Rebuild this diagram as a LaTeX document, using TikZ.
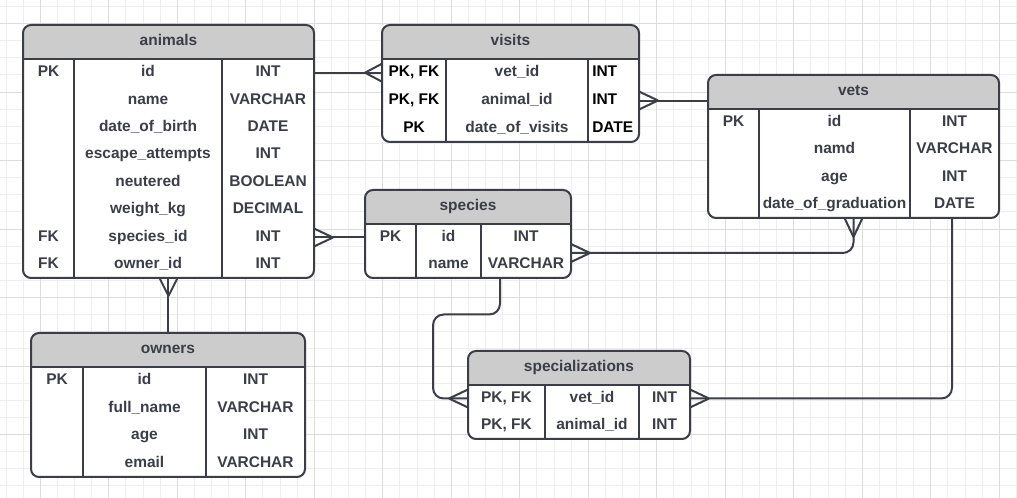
\documentclass[tikz,border=0pt]{standalone}
\usepackage{fontspec}
\setmainfont{Liberation Sans}
\usetikzlibrary{calc}

\definecolor{ink}{RGB}{59,62,70}
\definecolor{hdrgray}{RGB}{204,204,204}
\definecolor{gridlo}{RGB}{238,238,238}
\definecolor{gridhi}{RGB}{221,221,221}

% table frame: name, x, y, width, height, first rule, second rule
\newcommand\ertable[7]{%
  \node[tbl, minimum width={#4*0.75pt}, minimum height={#5*0.75pt}] (#1) at (#2,#3) {};
  \begin{scope}
    \clip[rounded corners=6pt] (#1.north west) rectangle (#1.south east);
    \fill[hdrgray] (#1.north west) rectangle ($(#1.north east)+(0,34)$);
  \end{scope}
  \draw[rule] ($(#1.north west)+(0,34)$) -- ($(#1.north east)+(0,34)$);
  \draw[rule] (#6,#3+34) -- (#6,#3+#5);
  \draw[rule] (#7,#3+34) -- (#7,#3+#5);
  \draw[frame] (#1.north west) rectangle (#1.south east);
  \node[cell] (#1-title) at ($(#1.north)+(0,17)$) {#1};
}

\begin{document}
\begin{tikzpicture}[x=0.75pt, y=-0.75pt,
    tbl/.style={fill=white, inner sep=0pt, outer sep=0pt, anchor=north west},
    frame/.style={draw=ink, line width=1.5pt, rounded corners=6pt},
    rule/.style={draw=ink, line width=1.5pt},
    link/.style={draw=ink, line width=1.5pt},
    cell/.style={font=\fontsize{11.6}{13}\selectfont\bfseries, text=ink, inner sep=0pt, text height=8pt, text depth=2pt}]
  \useasboundingbox (0,0) rectangle (1017,498);
  \fill[white] (0,0) rectangle (1017,498);

  % grid
  \foreach \i in {0,...,59} \draw[gridlo, line width=0.75pt] (6.05+17.125*\i,0) -- ++(0,498);
  \foreach \j in {0,...,28} \draw[gridlo, line width=0.75pt] (0,6.5+17.125*\j) -- ++(1017,0);
  \foreach \i in {0,...,14} \draw[gridhi, line width=0.75pt] (40.3+68.5*\i,0) -- ++(0,498);
  \foreach \j in {0,...,6} \draw[gridhi, line width=0.75pt] (0,23.6+68.5*\j) -- ++(1017,0);

  % animals
  \ertable{animals}{23}{25}{291}{253}{74}{222}
  \foreach \k/\n/\t [count=\i] in {PK/id/INT, {}/name/VARCHAR, {}/date\_of\_birth/DATE,
      {}/escape\_attempts/INT, {}/neutered/BOOLEAN, {}/weight\_kg/DECIMAL,
      FK/species\_id/INT, FK/owner\_id/INT} {
    \node[cell] (animals-k\i) at (48.5,59+27.4*\i-13.7) {\k};
    \node[cell] (animals-n\i) at (148,59+27.4*\i-13.7) {\n};
    \node[cell] (animals-t\i) at (268,59+27.4*\i-13.7) {\t};
  }

  % visits
  \ertable{visits}{382}{25}{257}{117}{446}{588}
  \foreach \k/\n/\t [count=\i] in {{PK, FK}/vet\_id/INT, {PK, FK}/animal\_id/INT, PK/date\_of\_visits/DATE} {
    \node[cell, text=black] (visits-k\i) at (414,59+27.67*\i-13.83) {\k};
    \node[cell] (visits-n\i) at (517,59+27.67*\i-13.83) {\n};
    \node[cell, text=black, anchor=west] (visits-t\i) at (592,59+27.67*\i-13.83) {\t};
  }

  % vets
  \ertable{vets}{708}{75}{291}{143}{759}{910}
  \foreach \k/\n/\t [count=\i] in {PK/id/INT, {}/namd/VARCHAR, {}/age/INT, {}/date\_of\_graduation/DATE} {
    \node[cell] (vets-k\i) at (733.5,109+27.25*\i-13.6) {\k};
    \node[cell] (vets-n\i) at (834.5,109+27.25*\i-13.6) {\n};
    \node[cell] (vets-t\i) at (954.5,109+27.25*\i-13.6) {\t};
  }

  % species
  \ertable{species}{365}{190}{206}{88}{416}{481}
  \foreach \k/\n/\t [count=\i] in {PK/id/INT, {}/name/VARCHAR} {
    \node[cell] (species-k\i) at (390.5,224+27*\i-13.5) {\k};
    \node[cell] (species-n\i) at (448.5,224+27*\i-13.5) {\n};
    \node[cell] (species-t\i) at (526,224+27*\i-13.5) {\t};
  }

  % owners
  \ertable{owners}{31}{333}{274}{144}{83}{206}
  \foreach \k/\n/\t [count=\i] in {PK/id/INT, {}/full\_name/VARCHAR, {}/age/INT, {}/email/VARCHAR} {
    \node[cell] (owners-k\i) at (57,367+27.5*\i-13.75) {\k};
    \node[cell] (owners-n\i) at (144.5,367+27.5*\i-13.75) {\n};
    \node[cell] (owners-t\i) at (255.5,367+27.5*\i-13.75) {\t};
  }

  % specializations
  \ertable{specializations}{468}{351}{222}{88}{545}{639}
  \foreach \k/\n/\t [count=\i] in {{PK, FK}/vet\_id/INT, {PK, FK}/animal\_id/INT} {
    \node[cell] (specializations-k\i) at (506.5,385+27*\i-13.5) {\k};
    \node[cell] (specializations-n\i) at (592,385+27*\i-13.5) {\n};
    \node[cell] (specializations-t\i) at (664.5,385+27*\i-13.5) {\t};
  }

  % relations
  \draw[link] (animals.east |- animals-n1) -- (visits.west |- animals-n1);
  \coordinate (f1) at ($(visits.west |- animals-n1)+(-17,0)$);
  \draw[link] (f1) -- +(17,-9) (f1) -- +(17,9);

  \draw[link] (visits.east |- visits-n2) -- (vets.west |- visits-n2);
  \coordinate (f2) at ($(visits.east |- visits-n2)+(19,0)$);
  \draw[link] (f2) -- +(-19,-9) (f2) -- +(-19,9);

  \draw[link] (animals.east |- species-n1) -- (species.west |- species-n1);
  \coordinate (f3) at ($(animals.east |- species-n1)+(19,0)$);
  \draw[link] (f3) -- +(-19,-9) (f3) -- +(-19,9);

  \draw[link, rounded corners=8pt] ($(species.east)+(0,19)$) -| (vets.south);
  \coordinate (f4) at ($(species.east)+(19,19)$);
  \draw[link] (f4) -- +(-19,-9) (f4) -- +(-19,9);
  \coordinate (f5) at ($(vets.south)+(0,19)$);
  \draw[link] (f5) -- +(-9,-19) (f5) -- +(9,-19);

  \draw[link, rounded corners=8pt] ($(species.south)+(32,0)$) |- ($(specializations.west |- specializations-n1)+(-35,-84)$) |- (specializations.west |- specializations-n1);
  \coordinate (f6) at ($(specializations.west |- specializations-n1)+(-19,0)$);
  \draw[link] (f6) -- +(19,-9) (f6) -- +(19,9);

  \draw[link, rounded corners=8pt] ($(vets.south)+(98.5,0)$) |- (specializations.east |- specializations-n1);
  \coordinate (f7) at ($(specializations.east |- specializations-n1)+(19,0)$);
  \draw[link] (f7) -- +(-19,-9) (f7) -- +(-19,9);

  \draw[link] (animals.south) -- (owners.north |- animals.south) -- (owners.north);
  \coordinate (f8) at ($(animals.south)+(0,18)$);
  \draw[link] (f8) -- +(-9,-18) (f8) -- +(9,-18);
\end{tikzpicture}
\end{document}
